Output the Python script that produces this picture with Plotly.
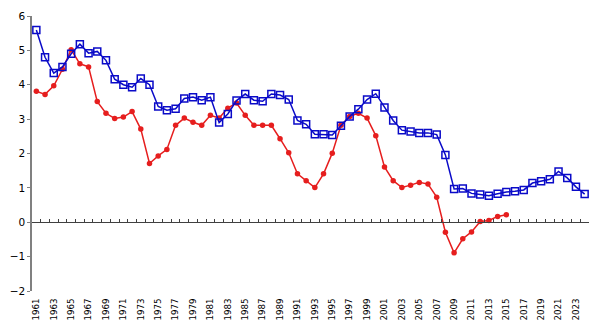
import plotly.graph_objects as go

years = list(range(1961, 2025))
blue_vals = [5.59, 4.80, 4.34, 4.52, 4.90, 5.18, 4.92, 4.97, 4.71, 4.16,
             4.00, 3.93, 4.18, 4.00, 3.37, 3.26, 3.30, 3.60, 3.64, 3.55,
             3.64, 2.90, 3.15, 3.54, 3.73, 3.55, 3.52, 3.73, 3.70, 3.57,
             2.96, 2.85, 2.56, 2.56, 2.54, 2.81, 3.08, 3.29, 3.57, 3.74,
             3.34, 2.96, 2.68, 2.64, 2.60, 2.60, 2.55, 1.96, 0.97, 0.98,
             0.84, 0.81, 0.77, 0.83, 0.88, 0.90, 0.94, 1.14, 1.19, 1.25,
             1.48, 1.29, 1.03, 0.82]
red_years = list(range(1961, 2016))
red_vals = [3.81, 3.72, 3.97, 4.45, 5.02, 4.61, 4.52, 3.51, 3.17, 3.02,
            3.06, 3.22, 2.71, 1.71, 1.93, 2.12, 2.82, 3.03, 2.91, 2.82,
            3.11, 3.03, 3.32, 3.47, 3.11, 2.82, 2.82, 2.82, 2.43, 2.02,
            1.41, 1.21, 1.01, 1.41, 2.01, 2.82, 3.08, 3.17, 3.03, 2.52,
            1.61, 1.21, 1.01, 1.08, 1.16, 1.11, 0.73, -0.29, -0.89, -0.48,
            -0.28, 0.02, 0.05, 0.17, 0.22]
tick_years = list(range(1961, 2025, 2))
tick_labels = [str(y) for y in tick_years]

blue = "#0a0ac8"
red = "#e61e1e"

fig = go.Figure()
fig.add_trace(go.Scatter(x=red_years, y=red_vals, mode="lines+markers",
                         line=dict(color=red, width=1.5),
                         marker=dict(symbol="circle", size=5.5, color=red),
                         showlegend=False))
fig.add_trace(go.Scatter(x=years, y=blue_vals, mode="lines+markers",
                         line=dict(color=blue, width=1.5),
                         marker=dict(symbol="square-open", size=7, color=blue,
                                     line=dict(width=1.5, color=blue)),
                         showlegend=False))
# invisible trace to activate the zero-line axis
fig.add_trace(go.Scatter(x=[years[0]], y=[None], xaxis="x2", mode="markers",
                         showlegend=False, hoverinfo="skip"))

font = dict(family="DejaVu Sans", size=8.7, color="#000000")
fig.update_layout(
    width=599, height=325,
    margin=dict(l=23, r=10, t=15, b=34),
    paper_bgcolor="white", plot_bgcolor="white",
    font=font,
    xaxis=dict(range=[1960.5, 2024.5], tickmode="array", tickvals=tick_years,
               ticktext=tick_labels, tickangle=-90, showline=False,
               showgrid=False, zeroline=False, ticks="outside", ticklen=3,
               tickcolor="rgba(0,0,0,0)", tickfont=font, automargin=False),
    xaxis2=dict(overlaying="x", anchor="free", position=0.25, matches="x",
                range=[1960.5, 2024.5], tickmode="linear", tick0=1960.5, dtick=1,
                ticks="inside", ticklen=3, tickcolor="#404040", tickwidth=1,
                showticklabels=False, showline=True, linecolor="#404040",
                linewidth=1, showgrid=False, zeroline=False),
    yaxis=dict(range=[-2, 6], dtick=1, showline=True, linecolor="#808080",
               linewidth=1.5, ticks="outside", ticklen=3, tickcolor="#808080",
               showgrid=False, zeroline=False,
               tickfont=dict(family="DejaVu Sans", size=10.5, color="#000000")),
)
fig.write_html("out.html")
